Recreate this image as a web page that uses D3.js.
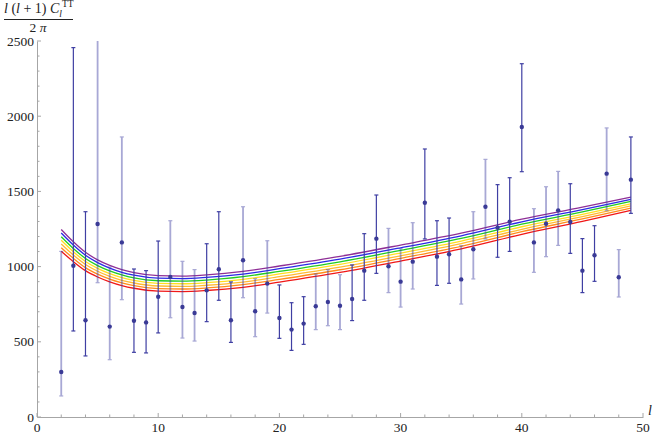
<!DOCTYPE html>
<html>
<head>
<meta charset="utf-8">
<script src="https://cdn.jsdelivr.net/npm/d3@7"></script>
<style>
  html, body { margin: 0; padding: 0; background: #fff; }
  svg { display: block; }
</style>
</head>
<body>
<div id="chart"></div>
<script>
// ---- data ----
const ell = [2,3,4,5,6,7,8,9,10,11,12,13,14,15,16,17,18,19,20,21,22,23,24,25,26,27,28,29,30,31,32,33,34,35,36,37,38,39,40,41,42,43,44,45,46,47,48,49];
const value = [299,1006,643,1283,601,1161,640,629,800,931,731,691,842,982,643,1042,703,887,658,581,621,736,765,740,785,973,1186,1002,900,1033,1425,1066,1082,915,1115,1398,1259,1299,1928,1161,1285,1374,1297,973,1075,1618,929,1578];
const lower = [140,572,406,893,381,780,430,426,559,660,525,505,634,776,496,793,534,691,523,443,483,581,607,581,641,776,955,827,731,851,1184,875,889,751,918,1184,1062,1101,1631,962,1066,1141,1088,827,902,1372,798,1354];
const upper = [1101,2456,1365,2650,997,1862,984,973,1170,1305,1035,980,1152,1365,898,1398,920,1172,878,760,800,951,980,946,1011,1219,1476,1254,1119,1292,1782,1305,1323,1139,1365,1713,1545,1591,2349,1385,1531,1633,1551,1186,1272,1922,1113,1862];
// which of two data groups each point belongs to (0 = first group, 1 = second group)
const group = [1,0,0,1,1,1,0,0,0,1,1,1,0,0,0,1,1,1,0,0,0,1,1,1,0,0,0,1,1,1,0,0,0,1,1,1,0,0,0,1,1,1,0,0,0,1,1,0];

// model curves
const curveL = [2,3,4,5,6,7,8,10,12,14,17,20,25,30,35,40,45,49];
const curve1 = [1247,1165,1095,1045,1008,980,960,940,937,945,968,1004,1068,1143,1222,1315,1395,1462];
const curve2 = [1223,1143,1075,1026,990,962,943,923,920,928,950,986,1050,1125,1205,1298,1379,1447];
const curve3 = [1199,1121,1054,1007,972,945,925,906,903,910,933,968,1032,1108,1187,1282,1364,1433];
const curve4 = [1175,1099,1034,988,953,927,908,889,886,893,915,951,1015,1090,1170,1265,1348,1418];
const curve5 = [1150,1077,1014,969,935,909,891,871,868,876,897,933,997,1072,1153,1248,1332,1403];
const curve6 = [1126,1055,993,950,917,892,873,854,851,858,880,915,979,1055,1135,1232,1317,1389];
const curve7 = [1102,1033,973,931,899,874,856,837,834,841,862,897,961,1037,1118,1215,1301,1374];
const curves = [curve1, curve2, curve3, curve4, curve5, curve6, curve7];
const curveColors = ["#8f2f96", "#2a2ae6", "#22cc22", "#ffdf1f", "#ffbb33", "#ff8c1a", "#f01818"];

const xTicks = [0,10,20,30,40,50];
const yTicks = [0,500,1000,1500,2000,2500];

// ---- layout ----
const W = 658, H = 436;
const svg = d3.select("#chart").append("svg").attr("width", W).attr("height", H);

const x = d3.scaleLinear().domain([0, 50]).range([37, 643]);
const y = d3.scaleLinear().domain([0, 2500]).range([417, 41]);

const axisColor = "#a6a6a6";
const font = "'Liberation Serif', 'Times New Roman', serif";

svg.append("defs").append("clipPath").attr("id", "clip")
  .append("rect").attr("x", 37).attr("y", 41).attr("width", 606).attr("height", 376);

// axes
const xAxis = d3.axisBottom(x).tickValues(d3.range(0, 51, 2)).tickSize(0).tickFormat("");
const gx = svg.append("g").attr("transform", `translate(0,${y(0)})`);
gx.call(xAxis);
gx.select(".domain").attr("stroke", axisColor).attr("stroke-width", 1);
gx.selectAll(".tk").data(d3.range(0, 51, 2)).enter().append("line")
  .attr("x1", d => x(d)).attr("x2", d => x(d))
  .attr("y1", 0).attr("y2", d => d % 10 === 0 ? -4 : -2.5)
  .attr("stroke", axisColor).attr("stroke-width", 1);
gx.selectAll(".lbl").data(xTicks).enter().append("text")
  .attr("x", d => x(d)).attr("y", 15)
  .attr("text-anchor", "middle")
  .attr("font-family", font).attr("font-size", 13.5).attr("fill", "#222")
  .text(d => d);

const yAxis = d3.axisLeft(y).tickValues(d3.range(0, 2501, 100)).tickSize(0).tickFormat("");
const gy = svg.append("g").attr("transform", `translate(${x(0)},0)`);
gy.call(yAxis);
gy.select(".domain").attr("stroke", axisColor).attr("stroke-width", 1);
gy.selectAll(".tk").data(d3.range(0, 2501, 100)).enter().append("line")
  .attr("y1", d => y(d)).attr("y2", d => y(d))
  .attr("x1", 0).attr("x2", d => d % 500 === 0 ? 4 : 2.5)
  .attr("stroke", axisColor).attr("stroke-width", 1);
gy.selectAll(".lbl").data(yTicks).enter().append("text")
  .attr("x", -3).attr("y", d => y(d) + 4.5)
  .attr("text-anchor", "end")
  .attr("font-family", font).attr("font-size", 13.5).attr("fill", "#222")
  .text(d => d);

// axis label x
svg.append("text").attr("x", 648).attr("y", 415)
  .attr("font-family", font).attr("font-style", "italic").attr("font-size", 14).attr("fill", "#222")
  .text("l");

// y label fraction
const yl = svg.append("text").attr("x", 4).attr("y", 13)
  .attr("font-family", font).attr("font-size", 14).attr("fill", "#222");
yl.append("tspan").attr("font-style", "italic").text("l");
yl.append("tspan").text(" (");
yl.append("tspan").attr("font-style", "italic").text("l");
yl.append("tspan").text(" + 1) ");
yl.append("tspan").attr("font-style", "italic").text("C");
yl.append("tspan").attr("font-style", "italic").attr("font-size", 9.5).attr("dy", 4).text("l");
yl.append("tspan").attr("font-size", 9.5).attr("dx", 0).attr("dy", -10).text("TT");
svg.append("line").attr("x1", 4).attr("x2", 73).attr("y1", 19.5).attr("y2", 19.5)
  .attr("stroke", "#222").attr("stroke-width", 1);
const yd = svg.append("text").attr("x", 38).attr("y", 32).attr("text-anchor", "middle")
  .attr("font-family", font).attr("font-size", 13.5).attr("fill", "#222");
yd.append("tspan").text("2 ");
yd.append("tspan").attr("font-style", "italic").text("π");

// plot content
const plot = svg.append("g").attr("clip-path", "url(#clip)");

const line = d3.line().x((d, i) => x(curveL[i])).y(d => y(d)).curve(d3.curveMonotoneX);
plot.selectAll(".curve").data(curves).enter().append("path")
  .attr("d", d => line(d))
  .attr("fill", "none")
  .attr("stroke", (d, i) => curveColors[i])
  .attr("stroke-width", 1.3);

const pts = ell.map((l, i) => ({ l, v: value[i], lo: lower[i], hi: upper[i], g: group[i] }));
const barColor = "#3f3fa3";
const eb = plot.selectAll(".eb").data(pts).enter().append("g")
  .attr("opacity", d => d.g === 1 ? 0.45 : 1);
eb.append("line")
  .attr("x1", d => x(d.l)).attr("x2", d => x(d.l))
  .attr("y1", d => y(d.lo)).attr("y2", d => y(d.hi))
  .attr("stroke", barColor).attr("stroke-width", d => d.g === 1 ? 1.8 : 1.2);
eb.append("line")
  .attr("x1", d => x(d.l) - 2).attr("x2", d => x(d.l) + 2)
  .attr("y1", d => y(d.lo)).attr("y2", d => y(d.lo))
  .attr("stroke", barColor).attr("stroke-width", 1.2);
eb.append("line")
  .attr("x1", d => x(d.l) - 2).attr("x2", d => x(d.l) + 2)
  .attr("y1", d => y(d.hi)).attr("y2", d => y(d.hi))
  .attr("stroke", barColor).attr("stroke-width", 1.2);

plot.selectAll(".pt").data(pts).enter().append("circle")
  .attr("cx", d => x(d.l)).attr("cy", d => y(d.v)).attr("r", 2.2)
  .attr("fill", "#3a3a96");
</script>
</body>
</html>
